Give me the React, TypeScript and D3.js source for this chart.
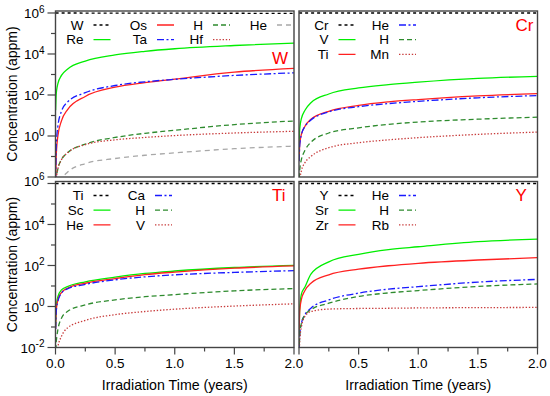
import React from "react";
import * as d3 from "d3";

// irradiation time (years) at which values were read
const TIME = [0.001, 0.005, 0.01, 0.02, 0.05, 0.1, 0.25, 0.5, 0.75, 1.0, 1.5, 2.0];

// W panel (appm)
const W_W = [1e6, 1e6, 1e6, 9.99e5, 9.99e5, 9.98e5, 9.95e5, 9.9e5, 9.86e5, 9.8e5, 9.7e5, 9.6e5];
const W_Re = [18, 90, 180, 360, 900, 1800, 4500, 9000, 13500, 18000, 26000, 34000];
const W_Os = [0.003, 0.07, 0.27, 1.0, 5.5, 19, 85, 240, 400, 600, 1300, 2000];
const W_Ta = [0.008, 0.2, 0.8, 3, 16, 45, 130, 290, 440, 580, 900, 1200];
const W_H = [0.001, 0.006, 0.012, 0.025, 0.07, 0.15, 0.4, 0.85, 1.35, 1.9, 3.6, 5.4];
const W_Hf = [0.001, 0.006, 0.012, 0.025, 0.07, 0.15, 0.38, 0.65, 0.85, 1.05, 1.4, 1.7];
const W_He = [0.0001, 0.0006, 0.0012, 0.002, 0.007, 0.017, 0.045, 0.08, 0.115, 0.15, 0.24, 0.32];

// Cr panel
const CR_Cr = [1e6, 1e6, 1e6, 1e6, 1e6, 9.99e5, 9.99e5, 9.99e5, 9.99e5, 9.99e5, 9.98e5, 9.98e5];
const CR_V = [0.35, 1.7, 3.5, 7, 18, 42, 112, 220, 320, 420, 640, 810];
const CR_Ti = [0.06, 0.3, 0.6, 1.2, 3, 6.5, 16, 31, 46, 60, 90, 117];
const CR_He = [0.058, 0.29, 0.58, 1.15, 2.9, 6, 15, 27, 38, 49, 73, 94];
const CR_H = [0.0035, 0.017, 0.035, 0.07, 0.2, 0.5, 1.4, 2.5, 3.7, 4.8, 6.6, 8.3];
const CR_Mn = [0.001, 0.005, 0.01, 0.02, 0.05, 0.1, 0.27, 0.47, 0.65, 0.83, 1.2, 1.55];

// Ti panel
const TI_Ti = [1e6, 1e6, 1e6, 1e6, 1e6, 1e6, 1e6, 1e6, 9.99e5, 9.99e5, 9.99e5, 9.99e5];
const TI_Sc = [0.1, 0.7, 1.5, 3, 6.5, 9.3, 16, 27, 41, 54, 80, 102];
const TI_He = [0.08, 0.5, 1.0, 2.1, 4.8, 7.8, 13.6, 23, 36, 48, 74, 95];
const TI_Ca = [0.08, 0.45, 0.9, 1.8, 4.5, 7.2, 12, 20, 28, 35, 46, 56];
const TI_H = [0.003, 0.014, 0.03, 0.074, 0.27, 0.57, 1.2, 2.1, 3.0, 3.8, 5.8, 7.5];
const TI_V = [0.0005, 0.002, 0.005, 0.011, 0.035, 0.09, 0.21, 0.4, 0.57, 0.74, 1.05, 1.35];

// Y panel
const Y_Y = [1e6, 1e6, 1e6, 1e6, 1e6, 1e6, 1e6, 1e6, 9.99e5, 9.99e5, 9.98e5, 9.97e5];
const Y_Sr = [0.05, 0.6, 1.5, 4, 9, 38, 150, 350, 600, 820, 1450, 1950];
const Y_Zr = [0.07, 0.45, 1, 2.2, 6, 13.6, 35, 66, 97, 128, 185, 240];
const Y_He = [0.007, 0.035, 0.07, 0.15, 0.4, 0.83, 2.1, 4.5, 7, 9.3, 15.5, 21];
const Y_H = [0.006, 0.03, 0.07, 0.15, 0.38, 0.69, 1.45, 3.1, 4.6, 6, 9.5, 12.6];
const Y_Rb = [0.001, 0.015, 0.04, 0.1, 0.33, 0.57, 0.75, 0.8, 0.82, 0.85, 0.88, 0.9];

const X_TICKS = [0, 0.5, 1.0, 1.5, 2.0];
const X_MINOR = [0.25, 0.75, 1.25, 1.75];
const Y_DECADES = [-2, -1, 0, 1, 2, 3, 4, 5, 6];
const Y_LABELED = [-2, 0, 2, 4, 6];

const ST: Record<string, { c: string; d?: string }> = {
  blk: { c: "#000000", d: "3,3" },
  grn: { c: "#00ee00" },
  red: { c: "#ff2020" },
  blu: { c: "#1a1aff", d: "7,2.5,2,2.5" },
  gdash: { c: "#2e8b2e", d: "5,3" },
  rdot: { c: "#c83c3c", d: "1.4,1.8" },
  gray: { c: "#a8a8a8", d: "5,4" },
};

const FONT = "'Liberation Sans', Arial, Helvetica, sans-serif";
const PW = 238.5, PH = 166;

const panels = [
  {
    name: "W", x0: 55.5, y0: 11, left: true, bottom: false, tagY: 47,
    cols: [
      [["W", W_W, "blk"], ["Re", W_Re, "grn"]],
      [["Os", W_Os, "red"], ["Ta", W_Ta, "blu"]],
      [["H", W_H, "gdash"], ["Hf", W_Hf, "rdot"]],
      [["He", W_He, "gray"]],
    ],
    colX: [28, 91.5, 147.5, 211.5],
  },
  {
    name: "Cr", x0: 299, y0: 11, left: false, bottom: false, tagY: 14,
    cols: [
      [["Cr", CR_Cr, "blk"], ["V", CR_V, "grn"], ["Ti", CR_Ti, "red"]],
      [["He", CR_He, "blu"], ["H", CR_H, "gdash"], ["Mn", CR_Mn, "rdot"]],
    ],
    colX: [29.5, 90],
  },
  {
    name: "Ti", x0: 55.5, y0: 181.5, left: true, bottom: true, tagY: 14,
    cols: [
      [["Ti", TI_Ti, "blk"], ["Sc", TI_Sc, "grn"], ["He", TI_He, "red"]],
      [["Ca", TI_Ca, "blu"], ["H", TI_H, "gdash"], ["V", TI_V, "rdot"]],
    ],
    colX: [28, 89.5],
  },
  {
    name: "Y", x0: 299, y0: 181.5, left: false, bottom: true, tagY: 14,
    cols: [
      [["Y", Y_Y, "blk"], ["Sr", Y_Sr, "grn"], ["Zr", Y_Zr, "red"]],
      [["He", Y_He, "blu"], ["H", Y_H, "gdash"], ["Rb", Y_Rb, "rdot"]],
    ],
    colX: [29.5, 90],
  },
];

function Panel({ p }: { p: any }) {
  const x = d3.scaleLinear().domain([0, 2]).range([p.x0, p.x0 + PW]);
  const y = d3.scaleLog().domain([1e-2, 1.25e6]).range([p.y0 + PH, p.y0]);
  const line = d3
    .line<number>()
    .x((_, i) => x(TIME[i]))
    .y((v) => y(v))
    .curve(d3.curveMonotoneX);
  const clipId = "clip-" + p.name;
  const series = p.cols.flat();
  return (
    <g>
      <clipPath id={clipId}>
        <rect x={p.x0} y={p.y0} width={PW} height={PH} />
      </clipPath>
      <g clipPath={`url(#${clipId})`}>
        {series.map(([lab, vals, st]: any) => (
          <path key={lab + st} d={line(vals) || ""} fill="none" stroke={ST[st].c}
            strokeWidth={1.3} strokeDasharray={ST[st].d} />
        ))}
        {/* legend */}
        {p.cols.map((col: any[], ci: number) =>
          col.map(([lab, , st]: any, ri: number) => {
            const tx = p.x0 + p.colX[ci];
            const ty = p.y0 + 14 + ri * 14.7;
            return (
              <g key={ci + "-" + ri}>
                <text x={tx} y={ty} dy="0.35em" textAnchor="end" fontSize={13.5}>{lab}</text>
                <line x1={tx + 10} x2={tx + 27} y1={ty} y2={ty} stroke={ST[st].c}
                  strokeWidth={1.3} strokeDasharray={ST[st].d} />
              </g>
            );
          })
        )}
      </g>
      <text x={p.x0 + PW - 22} y={p.y0 + p.tagY} dy="0.35em" fill="#ff0000" fontSize={17}>{p.name}</text>
      <rect x={p.x0} y={p.y0} width={PW} height={PH} fill="none" stroke="#444" strokeWidth={1.4} />
      {p.left &&
        Y_DECADES.map((k) => (
          <line key={"yt" + k} x1={p.x0 - (k % 2 === 0 ? 8 : 4.5)} x2={p.x0}
            y1={y(Math.pow(10, k))} y2={y(Math.pow(10, k))} stroke="#444" strokeWidth={1.2} />
        ))}
      {p.left &&
        Y_LABELED.filter((k) => !(k === -2 && !p.bottom)).map((k) => (
          <text key={"yl" + k} x={p.x0 - 11} y={y(Math.pow(10, k)) + (k === 6 && p.bottom ? -3 : 0)}
            dy="0.4em" textAnchor="end" fontSize={13.5}>
            10<tspan dy="-0.55em" fontSize={10}>{k}</tspan>
          </text>
        ))}
      {p.bottom && (
        <g>
          {X_TICKS.map((t) => (
            <line key={"xt" + t} x1={x(t)} x2={x(t)} y1={p.y0 + PH} y2={p.y0 + PH + 7} stroke="#444" strokeWidth={1.2} />
          ))}
          {X_MINOR.map((t) => (
            <line key={"xm" + t} x1={x(t)} x2={x(t)} y1={p.y0 + PH} y2={p.y0 + PH + 4} stroke="#444" strokeWidth={1.2} />
          ))}
          {X_TICKS.filter((t) => p.left || t > 0).map((t) => (
            <text key={"xl" + t} x={x(t)} y={368} textAnchor="middle" fontSize={13.5}>{t.toFixed(1)}</text>
          ))}
          <text x={x(1)} y={390} textAnchor="middle" fontSize={14.2}>Irradiation Time (years)</text>
        </g>
      )}
      {p.left && (
        <text transform={`translate(17,${p.y0 + PH / 2}) rotate(-90)`} textAnchor="middle" fontSize={14}>
          Concentration (appm)
        </text>
      )}
    </g>
  );
}

export default function App() {
  return (
    <svg width={550} height={396} style={{ position: "absolute", left: 0, top: 0, background: "#fff" }}
      fontFamily={FONT}>
      <rect width={550} height={396} fill="#fff" />
      {panels.map((p) => (
        <Panel key={p.name} p={p} />
      ))}
    </svg>
  );
}
